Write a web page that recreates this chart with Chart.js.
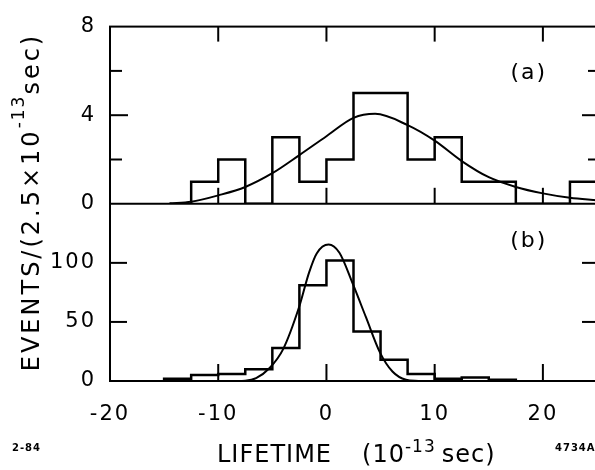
<!DOCTYPE html>
<html>
<head>
<meta charset="utf-8">
<script src="https://cdn.jsdelivr.net/npm/chart.js@4.4.1/dist/chart.umd.min.js"></script>
<style>
  html, body { margin: 0; padding: 0; background: #fff; overflow: hidden; }
  #wrap { width: 610px; height: 470px; }
</style>
</head>
<body>
<div id="wrap"><canvas id="lifeChart" width="610" height="470"></canvas></div>
<script>
// histogram bin edges, lifetime in 10^-13 sec (bins are 2.5 wide)
const binsA = [-12.5, -10, -7.5, -5, -2.5, 0, 2.5, 5, 7.5, 10, 12.5, 15, 17.5, 20, 22.5, 25];
const countsA = [1, 2, 0, 3, 1, 2, 5, 5, 2, 3, 1, 1, 0, 0, 1];
const binsB = [-15, -12.5, -10, -7.5, -5, -2.5, 0, 2.5, 5, 7.5, 10, 12.5, 15, 17.5];
const countsB = [2, 5, 6, 10, 28, 81, 102, 42, 18, 6, 2, 3, 1];

// fitted curves
const fitAx = [-14.5, -12.5, -10, -7.5, -5, -2.5, 0, 2.5, 4.5, 7.5, 10, 12.5, 15, 17.5, 20, 22.5, 25];
const fitAy = [0.02, 0.09, 0.38, 0.76, 1.38, 2.2, 3.05, 3.88, 4.06, 3.55, 2.85, 1.93, 1.2, 0.76, 0.47, 0.27, 0.16];
const fitBx = [-8.5, -7.5, -6.5, -5.25, -4, -2.55, -1.6, -0.9, 0.2, 1.2, 2.4, 3.65, 4.95, 6.1, 7.35, 8.5];
const fitBy = [0, 0.3, 2.5, 11, 27, 62, 92, 108, 115.5, 108.5, 83, 54, 24, 8, 1, 0];

// tick marks
const xTicks = [-10, 0, 10, 20];
const aMinor = [2, 6];
const aMajor = [4];
const bMajor = [50, 100];

const FONT = 'DejaVu Sans';

function stepPoints(edges, counts) {
  const pts = [{x: edges[0], y: 0}];
  counts.forEach((c, i) => pts.push({x: edges[i], y: c}));
  pts.push({x: edges[edges.length - 1], y: 0});
  return pts;
}

function curvePoints(xs, ys) {
  return xs.map((x, i) => ({x: x, y: ys[i]}));
}

// draw text pieces one after another, some raised (superscripts)
function runs(ctx, parts, x, y, align) {
  let total = 0;
  parts.forEach(p => {
    ctx.font = p.size + 'px "' + FONT + '"';
    ctx.letterSpacing = p.sp + 'px';
    p.w = ctx.measureText(p.t).width + (p.gap || 0);
    total += p.w;
  });
  let cx = align === 'center' ? x - total / 2 : x;
  parts.forEach(p => {
    ctx.font = p.size + 'px "' + FONT + '"';
    ctx.letterSpacing = p.sp + 'px';
    ctx.fillText(p.t, cx, y - (p.rise || 0));
    cx += p.w;
  });
}

const letterSpace = {
  id: 'letterSpace',
  beforeDraw(chart) {
    chart.ctx.letterSpacing = '2px';
  }
};

const decor = {
  id: 'decor',
  afterDraw(chart) {
    const ctx = chart.ctx;
    const x = chart.scales.x, ya = chart.scales.ya, yb = chart.scales.yb;
    const L = chart.chartArea.left, R = chart.chartArea.right;
    ctx.save();
    ctx.strokeStyle = '#000';
    ctx.lineWidth = 2;
    function seg(x1, y1, x2, y2) {
      ctx.beginPath(); ctx.moveTo(x1, y1); ctx.lineTo(x2, y2); ctx.stroke();
    }
    ctx.strokeRect(L, ya.top, R - L, yb.bottom - ya.top);
    seg(L, ya.bottom, R, ya.bottom);

    xTicks.forEach(v => {
      const px = x.getPixelForValue(v);
      seg(px, ya.top, px, ya.top + 15);
      seg(px, ya.bottom, px, ya.bottom - 16);
      seg(px, yb.bottom, px, yb.bottom - 17);
    });
    aMajor.forEach(v => {
      const py = ya.getPixelForValue(v);
      seg(L, py, L + 18, py); seg(R, py, R - 15, py);
    });
    aMinor.forEach(v => {
      const py = ya.getPixelForValue(v);
      seg(L, py, L + 12, py); seg(R, py, R - 9, py);
    });
    bMajor.forEach(v => {
      const py = yb.getPixelForValue(v);
      seg(L, py, L + 17, py); seg(R, py, R - 15, py);
    });

    ctx.fillStyle = '#000';
    ctx.textBaseline = 'middle';
    ctx.textAlign = 'center';
    ctx.font = '22px "' + FONT + '"';
    ctx.letterSpacing = '2px';
    ctx.fillText('(a)', x.getPixelForValue(18.7), ya.getPixelForValue(5.9));
    ctx.fillText('(b)', x.getPixelForValue(18.7), yb.getPixelForValue(118));

    // axis titles
    ctx.textAlign = 'left';
    ctx.textBaseline = 'alphabetic';
    runs(ctx, [
      {t: 'LIFETIME', size: 24, sp: 1, gap: 30},
      {t: '(10', size: 24, sp: 1},
      {t: '-13', size: 17, sp: 1, rise: 10, gap: 6},
      {t: 'sec)', size: 24, sp: 1}
    ], 217, 462, 'left');

    ctx.save();
    ctx.translate(39, 202);
    ctx.rotate(-Math.PI / 2);
    runs(ctx, [
      {t: 'EVENTS/(2.5\u00d710', size: 24, sp: 3},
      {t: '-13', size: 17, sp: 2, rise: 15},
      {t: 'sec)', size: 24, sp: 3}
    ], 0, 0, 'center');
    ctx.restore();

    ctx.font = 'bold 10px "' + FONT + '"';
    ctx.letterSpacing = '1px';
    ctx.fillText('2-84', 12, 451);
    ctx.fillText('4734A2', 555, 451);
    ctx.restore();
  }
};

const tickFont = {family: FONT, size: 21};

const ctx = document.getElementById('lifeChart');
new Chart(ctx, {
  type: 'line',
  data: {
    datasets: [
      {data: stepPoints(binsA, countsA), yAxisID: 'ya', stepped: true,
       borderColor: '#000', borderWidth: 2.5, pointRadius: 0, fill: false},
      {data: curvePoints(fitAx, fitAy), yAxisID: 'ya', cubicInterpolationMode: 'monotone',
       borderColor: '#000', borderWidth: 2, pointRadius: 0, fill: false},
      {data: stepPoints(binsB, countsB), yAxisID: 'yb', stepped: true,
       borderColor: '#000', borderWidth: 2.5, pointRadius: 0, fill: false},
      {data: curvePoints(fitBx, fitBy), yAxisID: 'yb', cubicInterpolationMode: 'monotone',
       borderColor: '#000', borderWidth: 2, pointRadius: 0, fill: false}
    ]
  },
  options: {
    responsive: false,
    animation: false,
    devicePixelRatio: 1,
    layout: {padding: {top: 15, right: 13, left: 0, bottom: 0}},
    plugins: {legend: {display: false}, tooltip: {enabled: false}},
    scales: {
      x: {
        type: 'linear', position: 'bottom', min: -20, max: 25,
        grid: {display: false, drawTicks: false}, border: {display: false},
        ticks: {stepSize: 10, includeBounds: false, padding: 21, maxRotation: 0,
                color: '#000', font: tickFont},
        afterFit: s => { s.height = 89; }
      },
      yb: {
        type: 'linear', position: 'left', stack: 'panels', stackWeight: 1,
        min: 0, max: 150,
        grid: {display: false, drawTicks: false}, border: {display: false},
        ticks: {stepSize: 50, padding: 14, color: '#000', font: tickFont,
                callback: v => (v === 150 ? '' : v)},
        afterFit: s => { s.width = 110; }
      },
      ya: {
        type: 'linear', position: 'left', stack: 'panels', stackWeight: 1,
        min: 0, max: 8,
        grid: {display: false, drawTicks: false}, border: {display: false},
        ticks: {stepSize: 4, padding: 14, color: '#000', font: tickFont},
        afterFit: s => { s.width = 110; }
      }
    }
  },
  plugins: [letterSpace, decor]
});
</script>
</body>
</html>
